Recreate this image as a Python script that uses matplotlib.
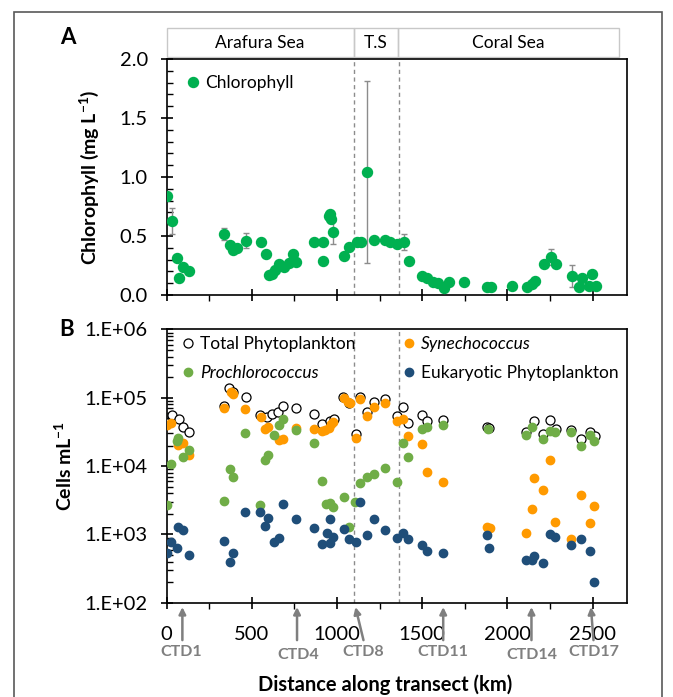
import numpy as np
import matplotlib
matplotlib.use("Agg")
import matplotlib.pyplot as plt
from matplotlib.ticker import FixedLocator, MultipleLocator, LogLocator, NullFormatter, FuncFormatter
from matplotlib.transforms import blended_transform_factory
from matplotlib.patches import Rectangle
from matplotlib.lines import Line2D

plt.rcParams['font.family'] = ['Lato', 'DejaVu Sans']
plt.rcParams['mathtext.default'] = 'regular'

# regions along the transect (km)
regions = ['Arafura Sea', 'T.S', 'Coral Sea']
region_edges = [0, 1097, 1357, 2655]
boundaries = [1097, 1362]

# panel A: chlorophyll (mg/L)
chl_km = [0, 29, 63, 72, 98, 133, 339, 372, 392, 412, 465, 553, 580, 598, 618, 637, 657, 686, 715, 741, 761,
          862, 917, 917, 951, 961, 966, 976, 1043, 1068, 1118, 1143, 1178, 1219, 1284, 1313, 1349, 1392, 1421,
          1500, 1529, 1565, 1592, 1627, 1657, 1745, 1882, 1902, 2029, 2112, 2147, 2160, 2212, 2255, 2284,
          2378, 2418, 2437, 2480, 2494, 2519]
chl = [0.84, 0.63, 0.31, 0.14, 0.24, 0.20, 0.52, 0.42, 0.38, 0.40, 0.46, 0.45, 0.35, 0.17, 0.18, 0.21, 0.26,
       0.24, 0.27, 0.35, 0.28, 0.45, 0.45, 0.29, 0.67, 0.69, 0.64, 0.53, 0.33, 0.41, 0.45, 0.45, 1.04, 0.47,
       0.47, 0.45, 0.43, 0.45, 0.29, 0.16, 0.14, 0.11, 0.10, 0.06, 0.11, 0.11, 0.07, 0.07, 0.08, 0.07, 0.09,
       0.12, 0.26, 0.32, 0.26, 0.16, 0.07, 0.14, 0.08, 0.18, 0.08]
chl_err = [0, 0.11, 0, 0, 0, 0, 0.05, 0, 0, 0, 0.065, 0, 0, 0, 0, 0, 0, 0, 0, 0, 0,
           0, 0, 0, 0, 0, 0.03, 0.10, 0, 0, 0, 0, 0.77, 0, 0, 0, 0, 0.07, 0,
           0, 0, 0, 0, 0, 0, 0, 0, 0, 0, 0, 0, 0, 0, 0.07, 0,
           0.09, 0, 0, 0, 0, 0]

# panel B: cells per mL
tot_km = [0, 29, 72, 98, 133, 339, 368, 388, 465, 549, 588, 618, 651, 682, 759, 862, 911, 957, 980, 1035, 1068,
          1112, 1137, 1176, 1215, 1284, 1353, 1388, 1415, 1500, 1529, 1623, 1882, 1892, 2108, 2153, 2206, 2251,
          2284, 2372, 2431, 2486, 2514]
tot = [43000, 56000, 49000, 37800, 31900, 75800, 137800, 123000, 101600, 56000, 51800, 58000, 62000, 75800,
       70200, 57300, 41400, 46300, 49000, 103700, 84800, 29500, 103700, 62600, 87700, 97000, 54500, 72600,
       42400, 56000, 46200, 47300, 37700, 35700, 31200, 46200, 29500, 47300, 34500, 33700, 24900, 31900, 27600]

syn_km = [0, 23, 68, 98, 133, 337, 378, 392, 461, 553, 578, 592, 662, 682, 759, 862, 911, 931, 951, 965, 976,
          1039, 1062, 1074, 1112, 1137, 1176, 1215, 1284, 1349, 1388, 1415, 1500, 1525, 1623, 1882, 1898, 2108,
          2147, 2153, 2206, 2251, 2278, 2372, 2431, 2486, 2506]
syn = [40000, 43200, 20400, 22000, 14500, 70200, 123000, 113700, 69300, 51700, 34500, 37000, 24100, 25200,
       35700, 34900, 32600, 33700, 35700, 41400, 44700, 98000, 87700, 83000, 25500, 95000, 54200, 74200, 84800,
       46200, 49000, 27900, 20800, 8280, 5790, 1300, 1240, 1060, 2350, 6620, 4420, 12300, 1540, 860, 3770,
       1450, 2600]

pro_km = [0, 23, 59, 68, 98, 133, 337, 372, 392, 461, 549, 578, 592, 631, 662, 682, 759, 862, 911, 937, 957, 976,
          1039, 1068, 1108, 1137, 1176, 1215, 1284, 1349, 1388, 1415, 1500, 1529, 1623, 1886, 2108, 2147, 2206,
          2251, 2278, 2372, 2431, 2486, 2509]
pro = [2690, 10700, 23600, 25500, 13700, 17200, 3080, 8970, 7000, 30200, 2690, 12300, 14400, 28500, 40000,
       48400, 33700, 21600, 6120, 2790, 2850, 2490, 3490, 1300, 2950, 5600, 6860, 7650, 9490, 5910, 22000,
       13400, 34500, 37000, 40000, 34500, 28500, 37800, 24600, 33000, 31200, 31200, 19900, 28500, 23600]

euk_km = [0, 23, 63, 68, 98, 133, 337, 372, 392, 461, 549, 578, 592, 631, 662, 682, 759, 862, 911, 941, 957, 961,
          976, 1039, 1068, 1114, 1137, 1176, 1215, 1284, 1349, 1388, 1415, 1500, 1529, 1623, 1882, 1892, 2108,
          2147, 2157, 2206, 2251, 2278, 2372, 2431, 2486, 2509]
euk = [540, 780, 625, 1270, 1160, 499, 800, 398, 540, 2150, 2100, 1340, 1720, 780, 880, 2790, 1680, 1230, 720,
       1060, 760, 1680, 905, 1190, 860, 780, 2950, 980, 1680, 1160, 880, 1040, 848, 700, 577, 529, 980, 638,
       422, 422, 483, 378, 1000, 905, 700, 860, 577, 199]

# CTD stations marked under the x axis
ctd_labels = ['CTD1', 'CTD4', 'CTD8', 'CTD11', 'CTD14', 'CTD17']
ctd_km = [92, 765, 1108, 1623, 2141, 2490]
ctd_label_km = [85, 775, 1155, 1620, 2141, 2505]

green = '#00B050'
orange = '#FF9A00'
pgreen = '#70AD47'
blue = '#1F4E79'
grey = '#7F7F7F'

fig = plt.figure(figsize=(6.73, 6.97), dpi=100)
axA = fig.add_axes([0.2477, 0.5768, 0.6835, 0.3386])
axB = fig.add_axes([0.2477, 0.1353, 0.6835, 0.392])

for ax in (axA, axB):
    ax.set_xlim(0, 2700)
    ax.xaxis.set_major_locator(MultipleLocator(500))
    ax.xaxis.set_minor_locator(MultipleLocator(250))
    for s in ax.spines.values():
        s.set_linewidth(1.2)
    ax.tick_params(which='major', direction='inout', length=9, width=1.2, labelsize=14.5, pad=9)
    ax.tick_params(axis='x', which='major', pad=12)
    ax.tick_params(axis='x', which='minor', direction='out', length=4.5, width=1)
    ax.tick_params(axis='y', which='minor', direction='in', length=4.5, width=1)
    for b in boundaries:
        ax.axvline(b, color='#8C8C8C', ls=(0, (3, 2.5)), lw=1, zorder=1)

# ---- panel A
axA.errorbar(chl_km, chl, yerr=chl_err, fmt='o', color=green, ms=7.2, mec=green,
             ecolor='#8C8C8C', elinewidth=1, capsize=2.5, capthick=1, zorder=3)
axA.set_ylim(0, 2.0)
axA.yaxis.set_major_locator(MultipleLocator(0.5))
axA.yaxis.set_minor_locator(MultipleLocator(0.1))
axA.yaxis.set_major_formatter(FuncFormatter(lambda v, p: f"{v:.1f}"))
axA.tick_params(axis='x', labelbottom=False)
axA.set_ylabel('Chlorophyll (mg L$^{-1}$)', fontsize=14, fontweight='bold')
axA.yaxis.set_label_coords(-0.143, 0.5)
hA = [Line2D([], [], ls='none', marker='o', ms=7.2, color=green)]
axA.legend(hA, ['Chlorophyll'], loc='upper left', bbox_to_anchor=(0.0, 1.005), frameon=False,
           fontsize=12.5, handlelength=1, handletextpad=0.2, borderaxespad=0.6)

trans = blended_transform_factory(axA.transData, axA.transAxes)
for name, x0, x1 in zip(regions, region_edges[:-1], region_edges[1:]):
    axA.add_patch(Rectangle((x0, 1.0085), x1 - x0, 0.124, transform=trans, fill=False,
                            ec='#C8C8C8', lw=1, clip_on=False))
    axA.text((x0 + x1) / 2, 1.068, name, transform=trans, ha='center', va='center', fontsize=12.5)

# ---- panel B
axB.set_yscale('log')
axB.plot(tot_km, tot, 'o', ms=6.5, mfc='white', mec='black', mew=0.9, label='Total Phytoplankton', zorder=3)
axB.plot(syn_km, syn, 'o', ms=6, color=orange, label='Synechococcus', zorder=4)
axB.plot(pro_km, pro, 'o', ms=6, color=pgreen, label='Prochlorococcus', zorder=5)
axB.plot(euk_km, euk, 'o', ms=6, color=blue, label='Eukaryotic Phytoplankton', zorder=6)
axB.set_ylim(1e2, 1e6)
axB.yaxis.set_major_locator(FixedLocator([1e2, 1e3, 1e4, 1e5, 1e6]))
axB.yaxis.set_major_formatter(FuncFormatter(lambda v, p: f"1.E+{int(round(np.log10(v))):02d}"))
axB.yaxis.set_minor_locator(LogLocator(base=10, subs=np.arange(2, 10)))
axB.yaxis.set_minor_formatter(NullFormatter())
axB.set_ylabel('Cells mL$^{-1}$', fontsize=14, fontweight='bold')
axB.yaxis.set_label_coords(-0.2, 0.5)
axB.set_xlabel('Distance along transect (km)', fontsize=14.5, fontweight='bold')
axB.xaxis.set_label_coords(0.474, -0.262)

h, l = axB.get_legend_handles_labels()
order = [0, 2, 1, 3]
leg = axB.legend([h[i] for i in order], [l[i] for i in order], ncol=2, loc='upper left',
                 bbox_to_anchor=(0.0, 1.022), frameon=False, fontsize=12.5, handlelength=1,
                 handletextpad=0.2, columnspacing=2.6, labelspacing=0.75, borderaxespad=0.3)
for t in leg.get_texts():
    if t.get_text() in ('Synechococcus', 'Prochlorococcus'):
        t.set_style('italic')

transB = blended_transform_factory(axB.transData, axB.transAxes)
for name, km, lk in zip(ctd_labels, ctd_km, ctd_label_km):
    axB.annotate('', xy=(km, -0.016), xytext=(lk if name in ('CTD8', 'CTD17') else km, -0.137),
                 xycoords=transB, textcoords=transB, annotation_clip=False,
                 arrowprops=dict(arrowstyle='-|>', color=grey, lw=1.8, mutation_scale=10,
                                 shrinkA=0, shrinkB=0))
    low = name in ('CTD4', 'CTD14')
    axB.text(lk, -0.19 if low else -0.179, name, transform=transB, ha='center', va='center',
             fontsize=11.5, fontweight='bold', color=grey)

fig.text(68 / 673, 1 - 37 / 697, 'A', fontsize=16, fontweight='bold', ha='center', va='center')
fig.text(67 / 673, 1 - 329 / 697, 'B', fontsize=16, fontweight='bold', ha='center', va='center')

fig.patches.append(Rectangle((14 / 673, -0.02), 648 / 673, 1.02 - 12 / 697, transform=fig.transFigure,
                             fill=False, ec='#595959', lw=1.2))

fig.savefig('out.png', dpi=100)
